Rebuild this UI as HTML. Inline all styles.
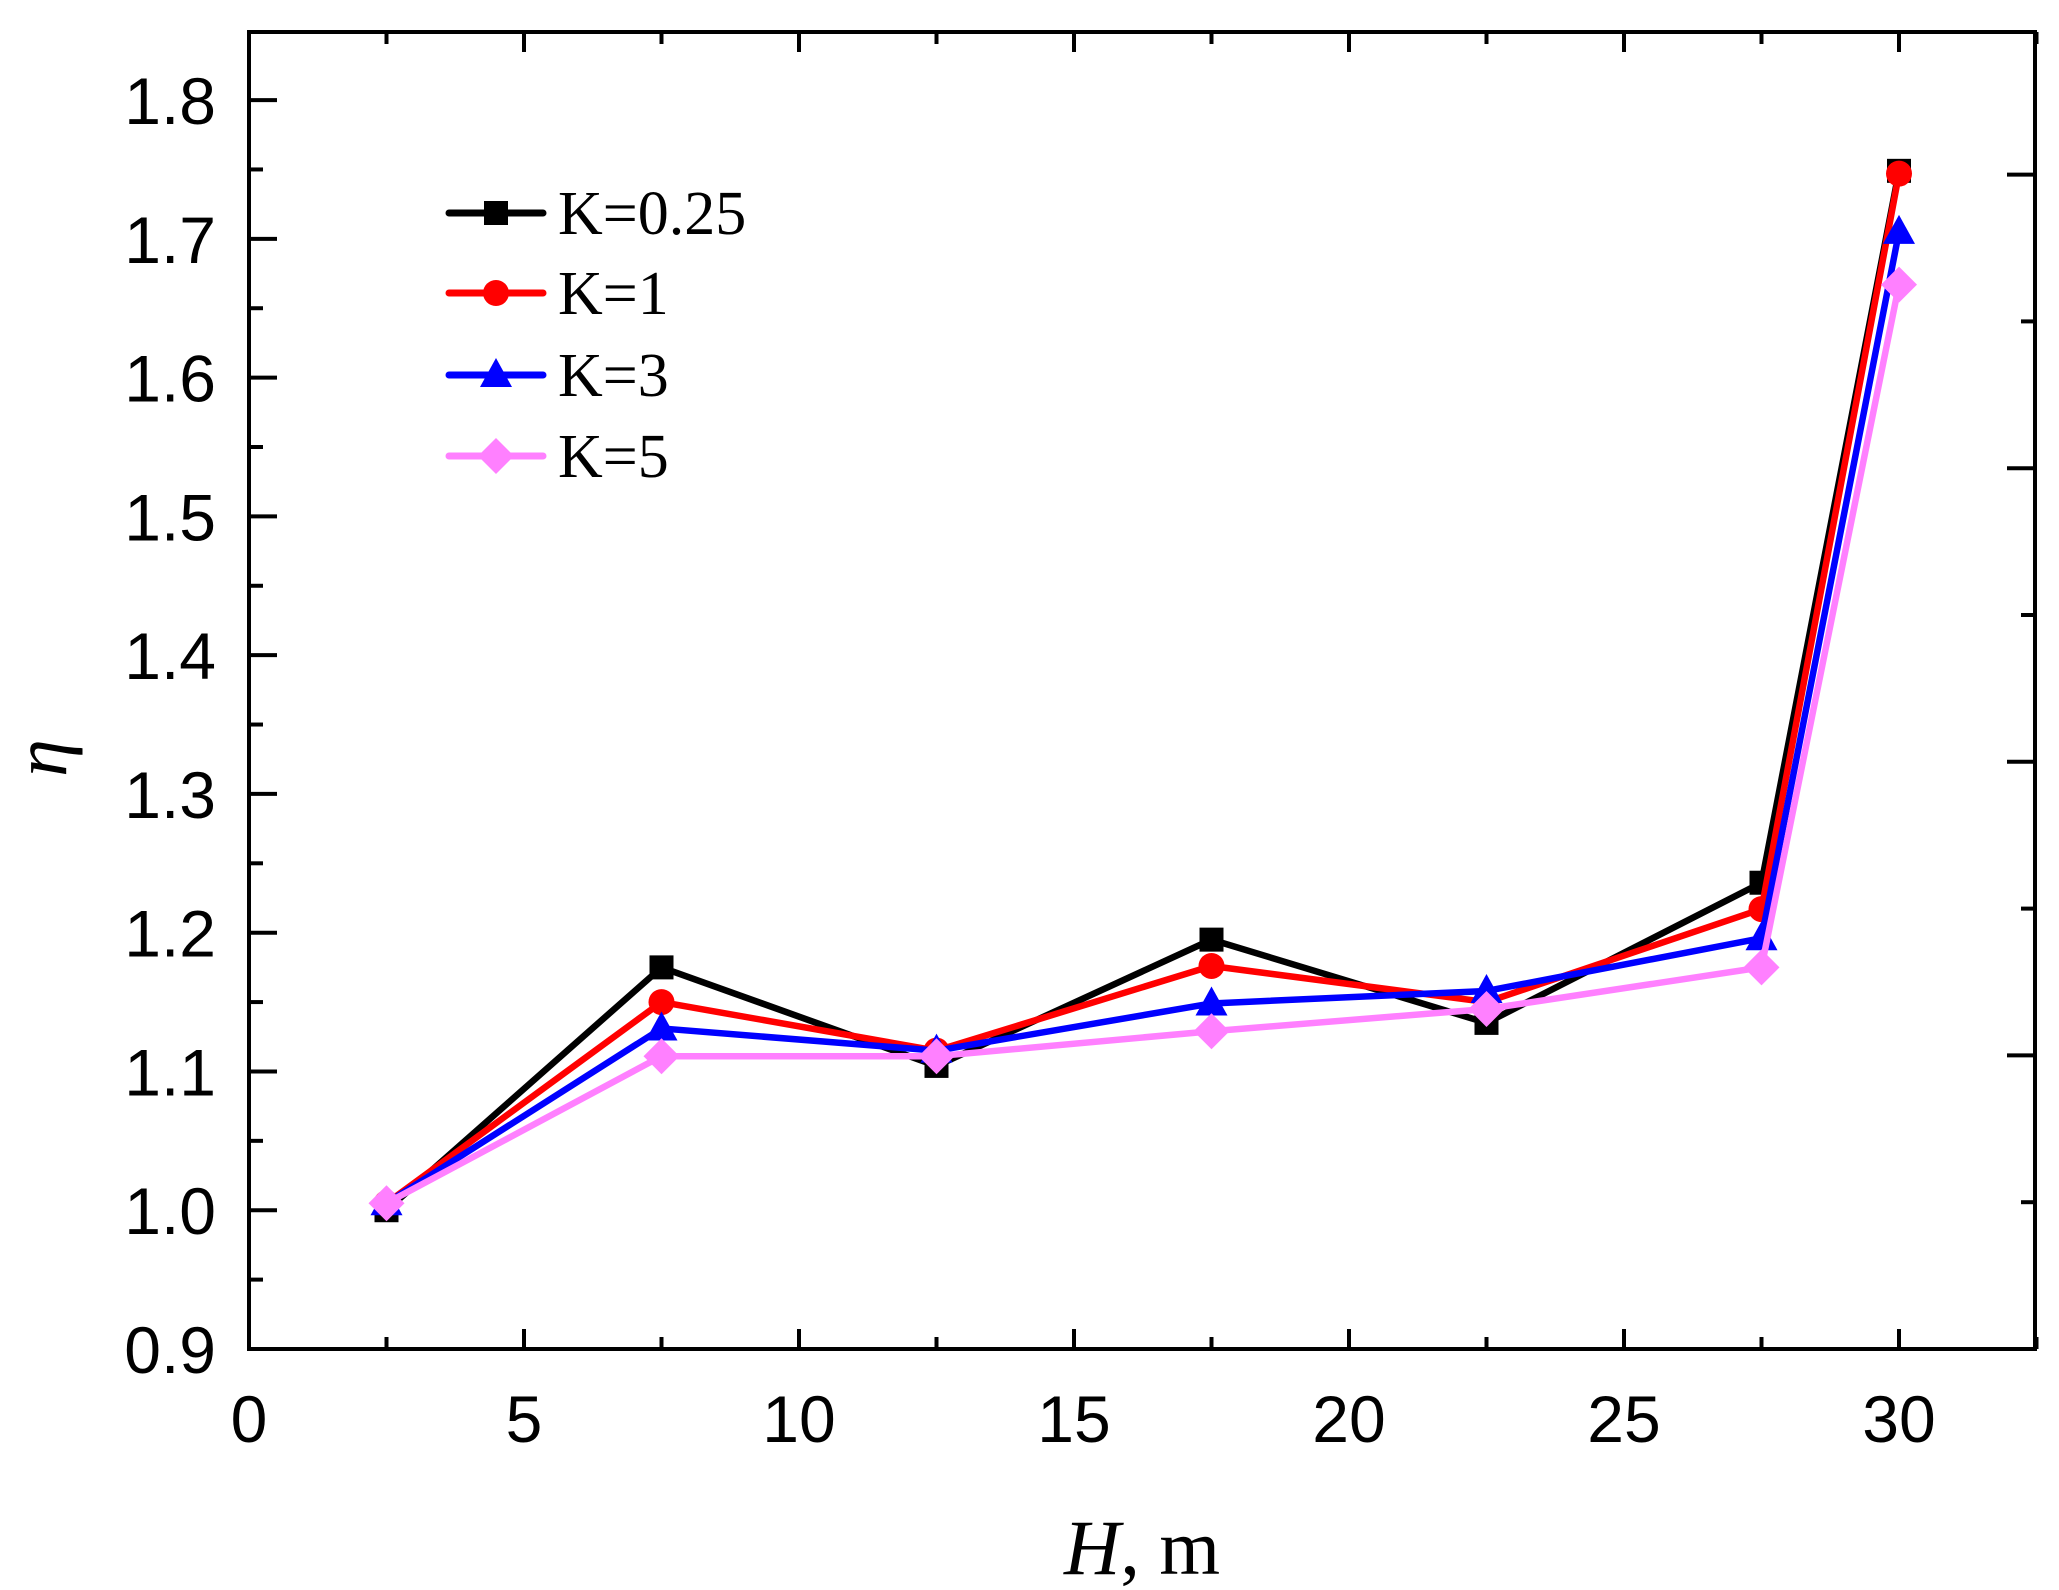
<!DOCTYPE html>
<html><head><meta charset="utf-8">
<style>html,body{margin:0;padding:0;background:#fff;}svg{display:block;}</style>
</head><body>
<svg id="s" width="2059" height="1590" xmlns="http://www.w3.org/2000/svg">
<rect width="2059" height="1590" fill="#fff"/>
</svg>
<script>
const s=document.getElementById('s');const NS='http://www.w3.org/2000/svg';
function el(t,a,txt){const e=document.createElementNS(NS,t);for(const k in a)e.setAttribute(k,a[k]);if(txt!==undefined)e.textContent=txt;s.appendChild(e);return e;}
const X=h=>249+55*h, Y=v=>1349-(v-0.9)*1387.7;
el('rect',{x:249,y:32,width:1786,height:1317,fill:'none',stroke:'#000','stroke-width':4});
for(let h=0;h<=32.5;h+=2.5){const maj=(h%5===0);const L=maj?20:12;
 el('line',{x1:X(h),y1:1349,x2:X(h),y2:1349-L,stroke:'#000','stroke-width':4});
 el('line',{x1:X(h),y1:32,x2:X(h),y2:32+L,stroke:'#000','stroke-width':4});
 if(maj&&h<=30) el('text',{x:X(h),y:1442,'font-family':'Liberation Sans, sans-serif','font-size':66,'text-anchor':'middle'},String(h));}
for(let i=0;i<=18;i++){const v=0.9+i*0.05;const maj=i%2===0;const L=maj?28:14;
 el('line',{x1:249,y1:Y(v),x2:249+L,y2:Y(v),stroke:'#000','stroke-width':4});
 if(maj) el('text',{x:216,y:Y(v)+24,'font-family':'Liberation Sans, sans-serif','font-size':66,'text-anchor':'end'},v.toFixed(1));}
for(let i=0;i<=8;i++){const y=1349-i*146.8;if(y<40)break;const L=(i%2===0)?28:14;
 el('line',{x1:2035,y1:y,x2:2035-L,y2:y,stroke:'#000','stroke-width':4});}
el('text',{x:1142,y:1574,'font-family':'Liberation Serif, serif','font-size':78,'text-anchor':'middle'}).innerHTML='<tspan font-style="italic">H</tspan>, m';
el('text',{x:0,y:0,transform:'translate(66,758) rotate(-90)','font-family':'Liberation Serif, serif','font-size':76,'font-style':'italic','text-anchor':'middle'},'η');
const xs=[2.5,7.5,12.5,17.5,22.5,27.5,30];
const series=[
 {c:'#000',m:'sq',d:[1.0,1.175,1.104,1.195,1.135,1.236,1.749],n:'K=0.25'},
 {c:'#ff0000',m:'ci',d:[1.005,1.15,1.115,1.176,1.15,1.217,1.747],n:'K=1'},
 {c:'#0000ff',m:'tr',d:[1.005,1.131,1.115,1.149,1.158,1.196,1.705],n:'K=3'},
 {c:'#ff80ff',m:'di',d:[1.005,1.111,1.111,1.129,1.145,1.175,1.667],n:'K=5'}];
function marker(m,x,y,c){
 if(m==='sq')el('rect',{x:x-12,y:y-12,width:24,height:24,fill:c});
 else if(m==='ci')el('circle',{cx:x,cy:y,r:13,fill:c});
 else if(m==='tr')el('polygon',{points:`${x},${y-17} ${x+16},${y+12} ${x-16},${y+12}`,fill:c});
 else el('polygon',{points:`${x},${y-18} ${x+18},${y} ${x},${y+18} ${x-18},${y}`,fill:c});}
series.forEach(S=>{el('polyline',{points:xs.map((h,i)=>X(h)+','+Y(S.d[i])).join(' '),fill:'none',stroke:S.c,'stroke-width':6.5,'stroke-linejoin':'round'});
 xs.forEach((h,i)=>marker(S.m,X(h),Y(S.d[i]),S.c));});
const ly=[213,293,375,456];
series.forEach((S,i)=>{el('line',{x1:449,y1:ly[i],x2:543,y2:ly[i],stroke:S.c,'stroke-width':7,'stroke-linecap':'round'});
 marker(S.m,496,ly[i],S.c);
 el('text',{x:558,y:ly[i]+21,'font-family':'Liberation Serif, serif','font-size':62},S.n);});
</script>
</body></html>
